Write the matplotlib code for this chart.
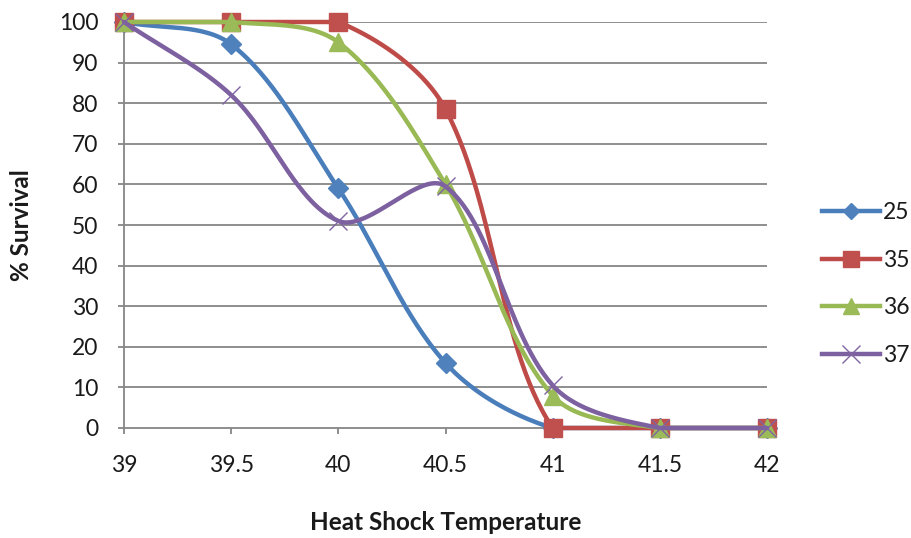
import numpy as np
import matplotlib
matplotlib.use("Agg")
import matplotlib.pyplot as plt
from matplotlib.lines import Line2D

# ---- data ----
temps = [39, 39.5, 40, 40.5, 41, 41.5, 42]
series_names = ["25", "35", "36", "37"]
s25 = [100, 94.5, 59, 16, 0, 0, 0]
s35 = [100, 100, 100, 78.5, 0, 0, 0]
s36 = [100, 100, 95, 60, 8, 0, 0]
s37 = [100, 82, 51, 59.5, 10.5, 0, 0]
y_ticks = [0, 10, 20, 30, 40, 50, 60, 70, 80, 90, 100]
x_ticks = [39, 39.5, 40, 40.5, 41, 41.5, 42]
x_ticklabels = ["39", "39.5", "40", "40.5", "41", "41.5", "42"]

line_colors = ["#4A7EBB", "#BE4B48", "#98B954", "#7D60A0"]
marker_colors = ["#4F81BD", "#C0504D", "#9BBB59", "#8064A2"]
markers = ["D", "s", "^", "x"]
msizes = [10, 13, 13, 13]

FONT = "Lato"
W, H = 912, 538
fig = plt.figure(figsize=(W / 100, H / 100), dpi=100)
L, R, T, B = 124, 767, 22, 428
ax = fig.add_axes([L / W, 1 - B / H, (R - L) / W, (B - T) / H])
ax.set_xlim(39, 42)
ax.set_ylim(0, 100)

sx = (R - L) / 3.0
sy = (B - T) / 100.0


def smooth(xs, ys, n=60):
    P = np.column_stack([np.array(xs) * sx, np.array(ys) * sy])
    m = len(P)
    out = []
    for i in range(m - 1):
        p0 = P[max(i - 1, 0)]
        p1 = P[i]
        p2 = P[i + 1]
        p3 = P[min(i + 2, m - 1)]
        d01 = np.linalg.norm(p1 - p0)
        d12 = np.linalg.norm(p2 - p1)
        d23 = np.linalg.norm(p3 - p2)
        t1 = p2 - p0
        t2 = p3 - p1
        f1 = d12 / (d01 + d12) / 3 if (d01 + d12) > 0 else 0
        f2 = d12 / (d12 + d23) / 3 if (d12 + d23) > 0 else 0
        c1 = p1 + t1 * f1
        c2 = p2 - t2 * f2
        t = np.linspace(0, 1, n)[:, None]
        seg = ((1 - t) ** 3) * p1 + 3 * ((1 - t) ** 2) * t * c1 + 3 * (1 - t) * t ** 2 * c2 + t ** 3 * p2
        out.append(seg if i == 0 else seg[1:])
    pts = np.vstack(out)
    return pts[:, 0] / sx, np.clip(pts[:, 1] / sy, 0, 100)


for yv in y_ticks[1:]:
    ax.axhline(yv, color="#868686", lw=1.3, zorder=1)

all_series = [s25, s35, s36, s37]
z = 3
for vals, lc, mc, mk, ms in zip(all_series, line_colors, marker_colors, markers, msizes):
    xs, ys = smooth(temps, vals)
    ax.plot(xs, ys, color=lc, lw=3.2, solid_capstyle="round", zorder=z, clip_on=False)
    if mk == "x":
        ax.plot(temps, vals, ls="none", marker=mk, ms=ms, mew=1.0, color=mc, zorder=z + 1, clip_on=False)
    else:
        ax.plot(temps, vals, ls="none", marker=mk, ms=ms, mfc=mc, mec=mc, zorder=z + 1, clip_on=False)
    z += 2

for sp in ["top", "right"]:
    ax.spines[sp].set_visible(False)
for sp in ["left", "bottom"]:
    ax.spines[sp].set_color("#868686")
    ax.spines[sp].set_linewidth(1.3)

ax.set_yticks(y_ticks)
ax.set_xticks(x_ticks)
ax.set_xticklabels(x_ticklabels)
ax.tick_params(axis="both", direction="out", color="#868686", width=1.3, length=4.5,
               labelsize=16.5, labelcolor="#1a1a1a")
ax.tick_params(axis="y", pad=14)
ax.tick_params(axis="x", pad=15)
for lab in ax.get_xticklabels() + ax.get_yticklabels():
    lab.set_fontfamily(FONT)

fig.text((L + R) / 2 / W, 1 - 522 / H, "Heat Shock Temperature", ha="center", va="center",
         fontsize=17.5, fontweight="bold", family=FONT, color="#1a1a1a")
fig.text(22 / W, 1 - 225 / H, "% Survival", ha="center", va="center", rotation=90,
         fontsize=17.5, fontweight="bold", family=FONT, color="#1a1a1a")

handles = []
for lc, mc, mk, ms in zip(line_colors, marker_colors, markers, msizes):
    if mk == "x":
        h = Line2D([], [], color=lc, lw=3.2, marker=mk, ms=ms, mec=mc, mew=1.0)
    else:
        h = Line2D([], [], color=lc, lw=3.2, marker=mk, ms=ms * 0.85, mfc=mc, mec=mc)
    handles.append(h)
leg = fig.legend(handles, series_names, loc="center left", bbox_to_anchor=(811 / W, 1 - 284 / H),
                 frameon=False, handlelength=2.5, handletextpad=0.15, labelspacing=1.15,
                 prop={"family": FONT, "size": 16.5}, borderpad=0, numpoints=1)
for t in leg.get_texts():
    t.set_color("#1a1a1a")

fig.savefig("out.png", dpi=100)
